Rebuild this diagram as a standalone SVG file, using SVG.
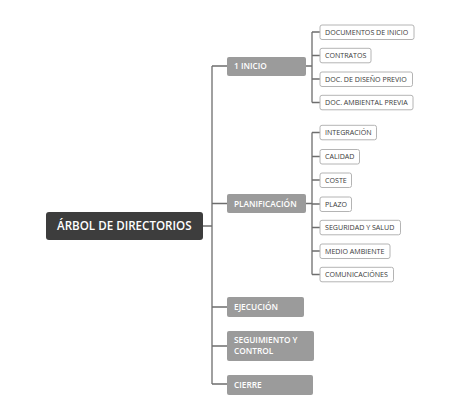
<svg xmlns="http://www.w3.org/2000/svg" width="474" height="404" viewBox="0 0 474 404">
<style>
.root rect{fill:#3d3d3d;}
.root text{fill:#ffffff;font-family:"Open Sans","Liberation Sans",sans-serif;font-size:11.6px;font-weight:600;}
.br rect{fill:#9b9b9b;}
.br text{fill:#ffffff;font-family:"Open Sans","Liberation Sans",sans-serif;font-size:8.3px;font-weight:600;}
.lf rect{fill:#ffffff;stroke:#b4b4b4;stroke-width:1;}
.lf text{fill:#3a3a3a;font-family:"Open Sans","Liberation Sans",sans-serif;font-size:7.1px;}
.conn path{fill:none;stroke:#6e6e6e;stroke-width:1.3;}
</style>
<rect width="474" height="404" fill="#ffffff"/>
<g class="conn">
<path d="M203 226 H212 M212 66 V384 M212 66 H227 M212 203.5 H227 M212 307 H227 M212 346 H227 M212 384 H227"/>
<path d="M306 66 H312 M312 32 V102.5 M312 32 H320 M312 55.5 H320 M312 79 H320 M312 102.5 H320"/>
<path d="M306 203.5 H312 M312 132.5 V274.5 M312 132.5 H320 M312 156.5 H320 M312 180 H320 M312 204 H320 M312 227.5 H320 M312 251 H320 M312 274.5 H320"/>
</g>
<g id="root" class="root"><rect x="46" y="212" width="157" height="28" rx="3"/><text x="57" y="230.2">ÁRBOL DE DIRECTORIOS</text></g>
<g id="inicio" class="br"><rect x="227" y="57" width="79" height="19" rx="2"/><text x="234" y="69.3">1 INICIO</text></g>
<g id="planificacion" class="br"><rect x="227" y="194" width="79" height="19" rx="2"/><text x="234" y="206.5">PLANIFICACIÓN</text></g>
<g id="ejecucion" class="br"><rect x="227" y="297" width="77" height="20" rx="2"/><text x="234" y="310">EJECUCIÓN</text></g>
<g id="seguimiento" class="br"><rect x="227" y="331" width="87" height="30" rx="2"/><text x="234" y="343">SEGUIMIENTO Y</text><text x="234" y="354">CONTROL</text></g>
<g id="cierre" class="br"><rect x="227" y="375" width="86" height="20" rx="2"/><text x="234" y="388">CIERRE</text></g>
<g id="documentos" class="lf"><rect x="320" y="25" width="94" height="14.5" rx="2"/><text x="325" y="34.6">DOCUMENTOS DE INICIO</text></g>
<g id="contratos" class="lf"><rect x="320" y="48.3" width="51" height="14.5" rx="2"/><text x="325" y="58">CONTRATOS</text></g>
<g id="diseno" class="lf"><rect x="320" y="72" width="92.5" height="14.5" rx="2"/><text x="325" y="81.6">DOC. DE DISEÑO PREVIO</text></g>
<g id="ambiental" class="lf"><rect x="320" y="95.3" width="93" height="14.5" rx="2"/><text x="325" y="105">DOC. AMBIENTAL PREVIA</text></g>
<g id="integracion" class="lf"><rect x="320" y="125.3" width="56.5" height="14.5" rx="2"/><text x="325" y="135">INTEGRACIÓN</text></g>
<g id="calidad" class="lf"><rect x="320" y="149.5" width="39.5" height="14.5" rx="2"/><text x="325" y="159.2">CALIDAD</text></g>
<g id="coste" class="lf"><rect x="320" y="173" width="31.5" height="14.5" rx="2"/><text x="325" y="182.6">COSTE</text></g>
<g id="plazo" class="lf"><rect x="320" y="197" width="31.5" height="14.5" rx="2"/><text x="325" y="206.6">PLAZO</text></g>
<g id="seguridad" class="lf"><rect x="320" y="220.3" width="80.5" height="14.5" rx="2"/><text x="325" y="230">SEGURIDAD Y SALUD</text></g>
<g id="medio" class="lf"><rect x="320" y="244" width="70" height="14.5" rx="2"/><text x="325" y="253.6">MEDIO AMBIENTE</text></g>
<g id="comunicaciones" class="lf"><rect x="320" y="267.3" width="73.5" height="14.5" rx="2"/><text x="325" y="277">COMUNICACIÓNES</text></g>
</svg>
